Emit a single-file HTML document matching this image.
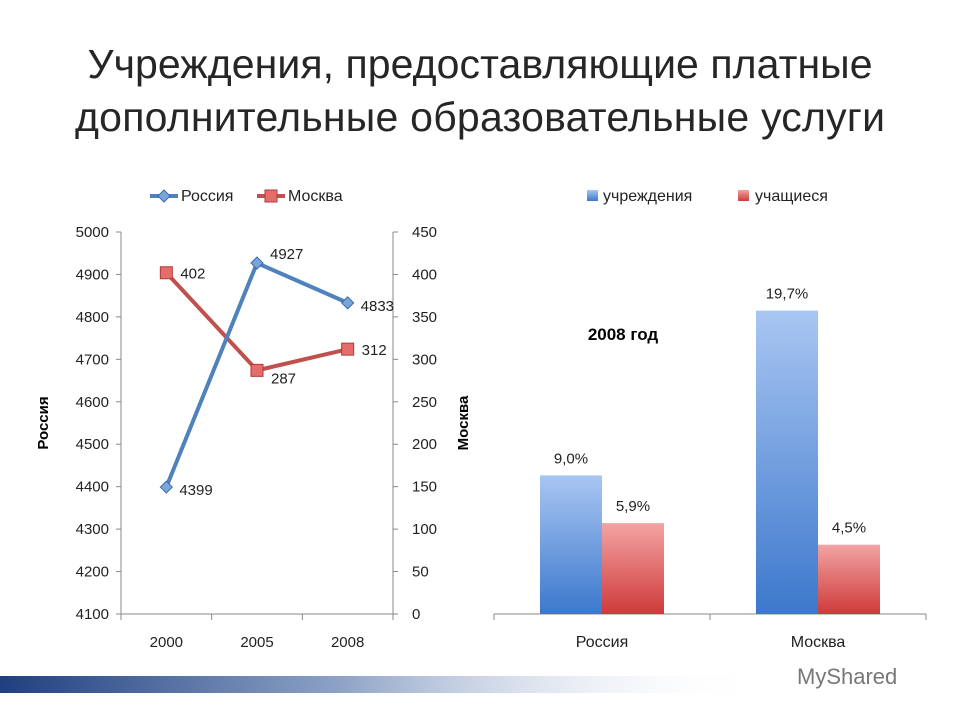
<!DOCTYPE html>
<html><head><meta charset="utf-8"><style>
body{margin:0;width:960px;height:720px;background:#fff;overflow:hidden;font-family:"Liberation Sans","DejaVu Sans",sans-serif}
svg text{font-family:"Liberation Sans","DejaVu Sans",sans-serif}
</style></head><body>
<svg width="960" height="720">
<defs>
<linearGradient id="band" x1="0" x2="1"><stop offset="0" stop-color="#1f3f7f"/><stop offset="0.45" stop-color="#8ea3c6"/><stop offset="1" stop-color="#ffffff" stop-opacity="0"/></linearGradient>
<linearGradient id="gb" x1="0" y1="0" x2="0" y2="1"><stop offset="0" stop-color="#a9c6f2"/><stop offset="1" stop-color="#3c78cc"/></linearGradient>
<linearGradient id="gr" x1="0" y1="0" x2="0" y2="1"><stop offset="0" stop-color="#f3a3a3"/><stop offset="1" stop-color="#cf3a3a"/></linearGradient>
</defs>
<text x="480" y="78" text-anchor="middle" font-size="41" fill="#262626" textLength="785">Учреждения, предоставляющие платные</text>
<text x="480" y="131" text-anchor="middle" font-size="41" fill="#262626" textLength="810">дополнительные образовательные услуги</text>
<rect x="0" y="676" width="760" height="17" fill="url(#band)"/>
<text x="797" y="684" font-size="22" fill="#777">MyShared</text>
<g id="left"></g>
<g id="right"></g>
</svg>
<script>
const years=["2000","2005","2008"];
const russia=[4399,4927,4833];
const moscow=[402,287,312];
const leftTicks=[4100,4200,4300,4400,4500,4600,4700,4800,4900,5000];
const rightTicks=[0,50,100,150,200,250,300,350,400,450];
const barCats=["Россия","Москва"];
const instVals=[9.0,19.7];
const studVals=[5.9,4.5];
const NS="http://www.w3.org/2000/svg";
function mk(p,t,a,txt){const e=document.createElementNS(NS,t);for(const k in a)e.setAttribute(k,a[k]);if(txt!=null)e.textContent=txt;p.appendChild(e);return e;}
const L=document.getElementById('left');
const x0=121,x1=393,yT=232,yB=614;
const yl=v=>yB-(v-4100)/900*(yB-yT);
const yr=v=>yB-v/450*(yB-yT);
const xc=i=>x0+(i+0.5)*(x1-x0)/years.length;
mk(L,'line',{x1:x0,y1:yT,x2:x0,y2:yB,stroke:'#888'});
mk(L,'line',{x1:x1,y1:yT,x2:x1,y2:yB,stroke:'#888'});
mk(L,'line',{x1:x0,y1:yB,x2:x1,y2:yB,stroke:'#888'});
leftTicks.forEach(v=>{mk(L,'line',{x1:x0-5,y1:yl(v),x2:x0,y2:yl(v),stroke:'#888'});
const t=mk(L,'text',{x:x0-12,y:yl(v)+5,'text-anchor':'end','font-size':15,fill:'#222'},v);
});
rightTicks.forEach(v=>{mk(L,'line',{x1:x1,y1:yr(v),x2:x1+5,y2:yr(v),stroke:'#888'});
const t=mk(L,'text',{x:x1+19,y:yr(v)+5,'font-size':15,fill:'#222'},v);
});
for(let i=0;i<=years.length;i++){const x=x0+i*(x1-x0)/years.length;mk(L,'line',{x1:x,y1:yB,x2:x,y2:yB+6,stroke:'#888'});}
years.forEach((y,i)=>{const t=mk(L,'text',{x:xc(i),y:647,'text-anchor':'middle','font-size':15,fill:'#222'},y);
});
let t=mk(L,'text',{x:48,y:423,transform:'rotate(-90 48 423)','text-anchor':'middle','font-size':15,'font-weight':'bold',fill:'#000'},'Россия');

t=mk(L,'text',{x:468,y:423,transform:'rotate(-90 468 423)','text-anchor':'middle','font-size':15,'font-weight':'bold',fill:'#000'},'Москва');

const rp=russia.map((v,i)=>xc(i)+','+yl(v)).join(' ');
const mp=moscow.map((v,i)=>xc(i)+','+yr(v)).join(' ');
let pl=mk(L,'polyline',{points:mp,fill:'none',stroke:'#c0504d','stroke-width':4});

pl=mk(L,'polyline',{points:rp,fill:'none',stroke:'#4f81bd','stroke-width':4});

moscow.forEach((v,i)=>{const m=mk(L,'rect',{x:xc(i)-6,y:yr(v)-6,width:12,height:12,fill:'#e46c6a',stroke:'#b03a37'});

const l=mk(L,'text',{x:xc(i)+14,y:yr(v)+(i==1?13:6),'font-size':15,fill:'#222'},v);
});
russia.forEach((v,i)=>{const x=xc(i),y=yl(v);const m=mk(L,'polygon',{points:`${x},${y-6} ${x+6},${y} ${x},${y+6} ${x-6},${y}`,fill:'#7aa5db',stroke:'#3d6ea8'});

const l=mk(L,'text',{x:x+13,y:y+(i==1?-4:8),'font-size':15,fill:'#222'},v);
});
let g=mk(L,'g',{});
mk(g,'line',{x1:150,y1:196,x2:178,y2:196,stroke:'#4f81bd','stroke-width':4});
mk(g,'polygon',{points:'164,190 170,196 164,202 158,196',fill:'#7aa5db',stroke:'#3d6ea8'});
mk(g,'text',{x:181,y:201,'font-size':16,fill:'#222'},'Россия');
g=mk(L,'g',{});
mk(g,'line',{x1:257,y1:196,x2:285,y2:196,stroke:'#c0504d','stroke-width':4});
mk(g,'rect',{x:265,y:190,width:12,height:12,fill:'#e46c6a',stroke:'#b03a37'});
mk(g,'text',{x:288,y:201,'font-size':16,fill:'#222'},'Москва');
const R=document.getElementById('right');
const bx0=494,bx1=926,bB=614,bT=306,bMax=20;
const yb=v=>bB-v/bMax*(bB-bT);
const cw=(bx1-bx0)/barCats.length;
mk(R,'line',{x1:bx0,y1:bB,x2:bx1,y2:bB,stroke:'#888'});
for(let i=0;i<=barCats.length;i++){const x=bx0+i*cw;mk(R,'line',{x1:x,y1:bB,x2:x,y2:bB+6,stroke:'#888'});}
barCats.forEach((c,i)=>{const cx=bx0+(i+0.5)*cw,bw=62;
const b1=mk(R,'rect',{x:cx-bw,y:yb(instVals[i]),width:bw,height:bB-yb(instVals[i]),fill:'url(#gb)'});

const b2=mk(R,'rect',{x:cx,y:yb(studVals[i]),width:bw,height:bB-yb(studVals[i]),fill:'url(#gr)'});

let l=mk(R,'text',{x:cx-bw/2,y:yb(instVals[i])-12,'text-anchor':'middle','font-size':15,fill:'#222'},instVals[i].toFixed(1).replace('.',',')+'%');

l=mk(R,'text',{x:cx+bw/2,y:yb(studVals[i])-12,'text-anchor':'middle','font-size':15,fill:'#222'},studVals[i].toFixed(1).replace('.',',')+'%');

l=mk(R,'text',{x:cx,y:647,'text-anchor':'middle','font-size':16,fill:'#222'},c);
});
t=mk(R,'text',{x:623,y:340,'text-anchor':'middle','font-size':17,'font-weight':'bold',fill:'#000'},'2008 год');

g=mk(R,'g',{});
mk(g,'rect',{x:587,y:190,width:11,height:11,fill:'url(#gb)'});
mk(g,'text',{x:603,y:201,'font-size':16,fill:'#222'},'учреждения');
g=mk(R,'g',{});
mk(g,'rect',{x:738,y:190,width:11,height:11,fill:'url(#gr)'});
mk(g,'text',{x:755,y:201,'font-size':16,fill:'#222'},'учащиеся');
</script>
</body></html>
